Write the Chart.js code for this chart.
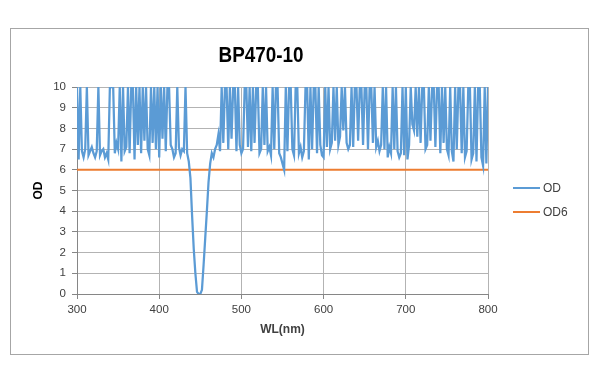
<!DOCTYPE html>
<html>
<head>
<meta charset="utf-8">
<script src="https://cdn.jsdelivr.net/npm/chart.js@4.4.1/dist/chart.umd.min.js"></script>
<style>
html,body{margin:0;padding:0;background:#fff;}
canvas{display:block;}
</style>
</head>
<body>
<canvas id="c" width="600" height="383"></canvas>
<script>
const chartTitle = "BP470-10";
const xTitle = "WL(nm)";
const yTitle = "OD";
const seriesNames = ["OD", "OD6"];

const wl = [
300,302,304,306,308,310,312,314,316,318,
320,322,324,326,328,330,332,334,336,338,
340,342,344,346,348,350,352,354,356,358,
360,362,364,366,368,370,372,374,376,378,
380,382,384,386,388,390,392,394,396,398,
400,402,404,406,408,410,412,414,416,418,
420,422,424,426,428,430,432,434,436,438,
440,442,444,446,448,450,452,454,456,458,
460,462,464,466,468,470,472,474,476,478,
480,482,484,486,488,490,492,494,496,498,
500,502,504,506,508,510,512,514,516,518,
520,522,524,526,528,530,532,534,536,538,
540,542,544,546,548,550,552,554,556,558,
560,562,564,566,568,570,572,574,576,578,
580,582,584,586,588,590,592,594,596,598,
600,602,604,606,608,610,612,614,616,618,
620,622,624,626,628,630,632,634,636,638,
640,642,644,646,648,650,652,654,656,658,
660,662,664,666,668,670,672,674,676,678,
680,682,684,686,688,690,692,694,696,698,
700,702,704,706,708,710,712,714,716,718,
720,722,724,726,728,730,732,734,736,738,
740,742,744,746,748,750,752,754,756,758,
760,762,764,766,768,770,772,774,776,778,
780,782,784,786,788,790,792,794,796,798,
800
];

const od = [
10,6.5,10,6.9,6.6,7.0,10,6.7,6.9,7.1,
6.8,6.6,6.9,10,6.7,6.9,7.0,6.6,6.8,6.5,
10,10,10,6.8,7.3,7.0,10,6.4,10,6.9,
7.1,10,6.8,10,10,6.5,10,7.2,10,6.8,
10,7.4,10,7.0,6.7,10,7.3,10,7.0,10,
6.6,10,7.5,10,6.9,10,10,7.2,7.0,6.6,
6.8,10,7.1,6.7,7.0,6.9,10,6.8,6.4,5.6,
3.8,2.2,1.0,0.1,0,0,0.2,1.4,2.7,4.0,
5.4,6.3,6.8,6.6,7.0,7.2,7.7,6.9,10,7.3,
10,10,7.0,10,7.5,10,10,6.9,10,7.2,
6.8,7.0,10,10,7.1,10,6.9,10,7.3,10,
10,6.8,7.0,10,7.2,10,6.9,7.1,6.7,10,
7.0,10,10,6.8,6.6,6.3,6.0,10,6.9,10,
10,7.0,6.7,10,10,6.8,7.1,6.6,6.9,10,
10,6.5,10,7.0,10,10,6.8,10,7.2,6.7,
6.6,10,7.1,10,7.0,7.3,10,7.4,10,7.2,
7.6,10,7.9,10,7.3,7.0,7.2,10,7.1,10,
10,7.4,10,10,7.2,10,10,7.0,10,10,
7.3,10,7.1,7.4,6.9,7.2,10,7.0,10,6.6,
7.1,6.8,10,7.0,10,6.9,6.6,6.8,10,6.7,
10,6.5,7.2,10,8.2,7.9,10,7.6,10,7.3,
10,10,7.0,7.2,10,7.4,10,10,7.1,10,
10,6.8,10,7.3,10,7.0,6.7,10,6.9,6.4,
10,7.0,10,10,6.8,10,6.6,6.9,10,10,
6.5,6.8,10,6.4,10,10,6.6,6.2,10,6.3,
10
];

const od6Wl = [300, 800];
const od6 = [6, 6];

const xTicks = [300, 400, 500, 600, 700, 800];
const yTicks = [0,1,2,3,4,5,6,7,8,9,10];

const colors = ["#5B9BD5", "#ED7D31"];

const odData = wl.map((w, i) => ({x: w, y: od[i]}));
const od6Data = od6Wl.map((w, i) => ({x: w, y: od6[i]}));

const decor = {
  id: 'decor',
  beforeDraw(chart) {
    const ctx = chart.ctx;
    ctx.save();
    ctx.fillStyle = '#fff';
    ctx.fillRect(0, 0, chart.width, chart.height);
    ctx.strokeStyle = '#A6A6A6';
    ctx.lineWidth = 1;
    ctx.strokeRect(10.5, 28.5, 578, 326);
    ctx.restore();
  },
  afterDraw(chart) {
    const ctx = chart.ctx;
    ctx.save();
    ctx.fillStyle = '#000';
    ctx.font = "bold 22px 'Liberation Sans', sans-serif";
    ctx.textAlign = 'center';
    ctx.textBaseline = 'middle';
    ctx.fillText(chartTitle, 261, 56, 85);
    // legend
    const items = [[seriesNames[0], colors[0], 188], [seriesNames[1], colors[1], 212]];
    ctx.font = "12px 'Liberation Sans', sans-serif";
    ctx.textAlign = 'left';
    items.forEach(([name, col, y]) => {
      ctx.strokeStyle = col;
      ctx.lineWidth = 2;
      ctx.beginPath();
      ctx.moveTo(513, y);
      ctx.lineTo(540, y);
      ctx.stroke();
      ctx.fillStyle = '#404040';
      ctx.fillText(name, 543, y + 1);
    });
    ctx.restore();
  }
};

new Chart(document.getElementById('c'), {
  type: 'line',
  data: {
    datasets: [
      {label: seriesNames[0], data: odData, borderColor: colors[0], backgroundColor: colors[0], borderWidth: 2.25, pointRadius: 0, tension: 0, fill: false},
      {label: seriesNames[1], data: od6Data, borderColor: colors[1], backgroundColor: colors[1], borderWidth: 2, pointRadius: 0, tension: 0, fill: false}
    ]
  },
  options: {
    responsive: false,
    animation: false,
    devicePixelRatio: 1,
    layout: {padding: {left: 25, right: 112, top: 87, bottom: 46}},
    plugins: {legend: {display: false}, title: {display: false}, tooltip: {enabled: false}},
    scales: {
      x: {
        type: 'linear', min: 300, max: 800,
        afterFit(s) { s.height = 43; },
        afterBuildTicks(s) { s.ticks = xTicks.map(v => ({value: v})); },
        ticks: {color: '#404040', font: {family: "'Liberation Sans', sans-serif", size: 11.5}, padding: 4, maxRotation: 0},
        grid: {color: '#B3B3B3', lineWidth: 1, tickLength: 5, tickColor: '#868686', drawTicks: true},
        border: {color: '#868686', width: 1},
        title: {display: true, text: xTitle, color: '#404040', font: {family: "'Liberation Sans', sans-serif", size: 12, weight: 'bold'}, padding: {top: 0, bottom: 0}}
      },
      y: {
        type: 'linear', min: 0, max: 10,
        afterFit(s) { s.width = 52; },
        afterBuildTicks(s) { s.ticks = yTicks.map(v => ({value: v})); },
        ticks: {color: '#404040', font: {family: "'Liberation Sans', sans-serif", size: 11.5}, padding: 6},
        grid: {color: '#B3B3B3', lineWidth: 1, tickLength: 5, tickColor: '#868686', drawTicks: true},
        border: {color: '#868686', width: 1},
        title: {display: true, text: yTitle, color: '#000', font: {family: "'Liberation Sans', sans-serif", size: 12, weight: 'bold'}, padding: {top: 6, bottom: 0}}
      }
    }
  },
  plugins: [decor]
});
</script>
</body>
</html>
